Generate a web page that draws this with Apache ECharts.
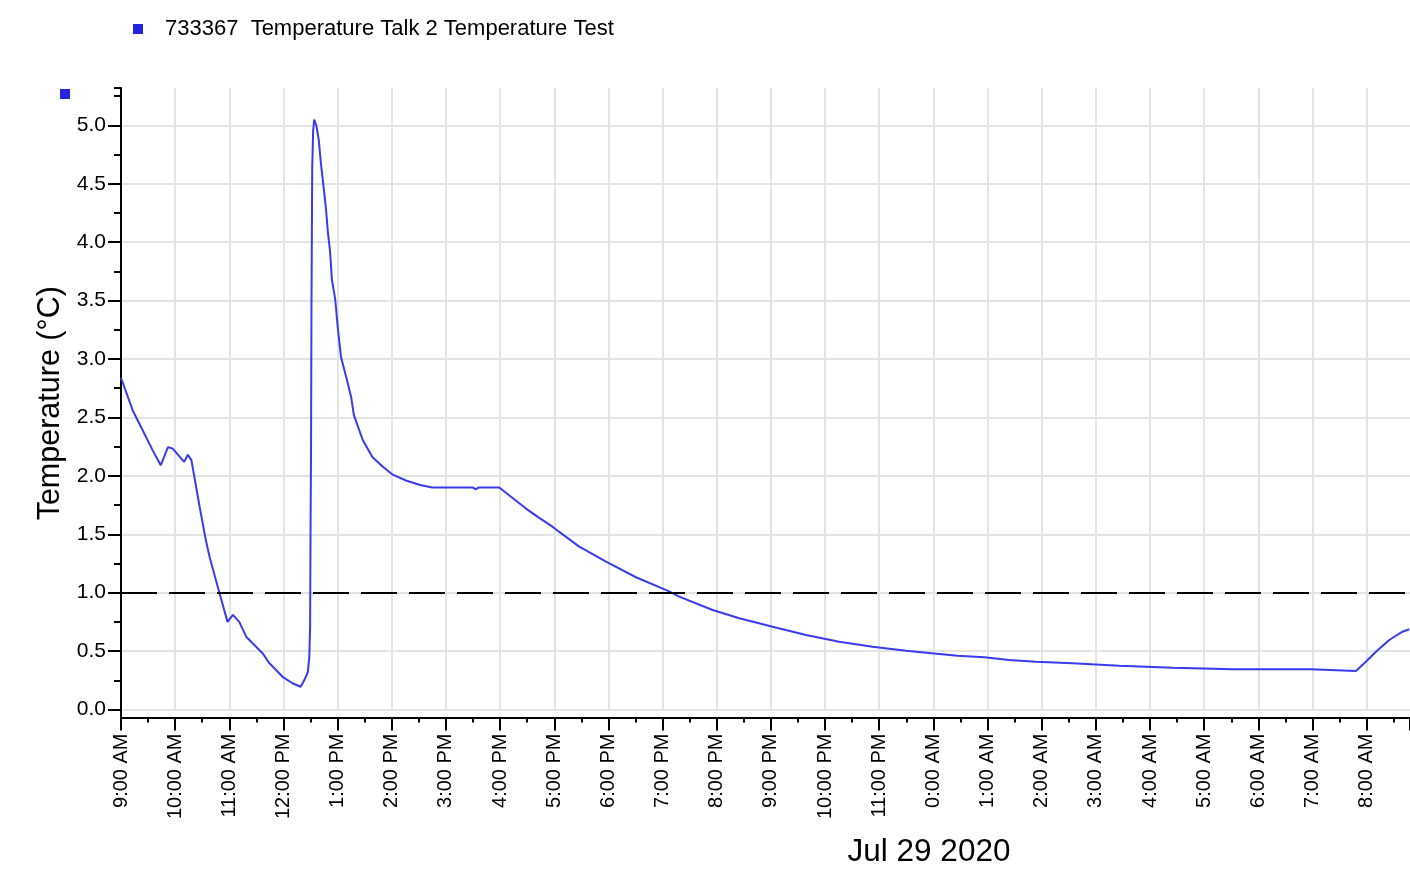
<!DOCTYPE html>
<html>
<head>
<meta charset="utf-8">
<script src="https://cdn.jsdelivr.net/npm/echarts@6/dist/echarts.min.js"></script>
<style>
  html, body { margin: 0; padding: 0; background: #ffffff; }
  #chart { width: 1410px; height: 870px; }
</style>
</head>
<body>
<div id="chart"></div>
<script>
// ---- data ----
const seriesName = '733367  Temperature Talk 2 Temperature Test';
const dateLabel = 'Jul 29 2020';
const yAxisTitle = 'Temperature (°C)';
const startTime = '2020-07-28 09:00:00';
const thresholdValue = 1.0;

const hourLabels = ['9:00 AM', '10:00 AM', '11:00 AM', '12:00 PM', '1:00 PM', '2:00 PM', '3:00 PM',
  '4:00 PM', '5:00 PM', '6:00 PM', '7:00 PM', '8:00 PM', '9:00 PM', '10:00 PM', '11:00 PM',
  '0:00 AM', '1:00 AM', '2:00 AM', '3:00 AM', '4:00 AM', '5:00 AM', '6:00 AM', '7:00 AM', '8:00 AM'];

const times = [
  '2020-07-28 09:00:00', '2020-07-28 09:13:00', '2020-07-28 09:24:00', '2020-07-28 09:35:00',
  '2020-07-28 09:44:00', '2020-07-28 09:52:00', '2020-07-28 09:57:00', '2020-07-28 10:10:00',
  '2020-07-28 10:14:00', '2020-07-28 10:18:00', '2020-07-28 10:27:00', '2020-07-28 10:34:00',
  '2020-07-28 10:38:00', '2020-07-28 10:49:00', '2020-07-28 10:58:00', '2020-07-28 11:04:00',
  '2020-07-28 11:11:00', '2020-07-28 11:19:00', '2020-07-28 11:37:00', '2020-07-28 11:44:00',
  '2020-07-28 11:59:00', '2020-07-28 12:10:00', '2020-07-28 12:19:00', '2020-07-28 12:23:00',
  '2020-07-28 12:27:00', '2020-07-28 12:28:36', '2020-07-28 12:29:30', '2020-07-28 12:30:00',
  '2020-07-28 12:30:30', '2020-07-28 12:31:00', '2020-07-28 12:31:50', '2020-07-28 12:32:50',
  '2020-07-28 12:34:00', '2020-07-28 12:36:20', '2020-07-28 12:39:00', '2020-07-28 12:41:40',
  '2020-07-28 12:44:20', '2020-07-28 12:47:10', '2020-07-28 12:49:00', '2020-07-28 12:51:30',
  '2020-07-28 12:53:40', '2020-07-28 12:57:20', '2020-07-28 13:00:00', '2020-07-28 13:03:40',
  '2020-07-28 13:09:20', '2020-07-28 13:14:50', '2020-07-28 13:18:00', '2020-07-28 13:27:40',
  '2020-07-28 13:38:40', '2020-07-28 13:49:50', '2020-07-28 14:01:00', '2020-07-28 14:15:40',
  '2020-07-28 14:32:20', '2020-07-28 14:45:00', '2020-07-28 15:30:00', '2020-07-28 15:33:00',
  '2020-07-28 15:36:00', '2020-07-28 15:59:00', '2020-07-28 16:13:50', '2020-07-28 16:28:40',
  '2020-07-28 16:43:20', '2020-07-28 16:58:00', '2020-07-28 17:05:30', '2020-07-28 17:27:40',
  '2020-07-28 17:57:20', '2020-07-28 18:30:30', '2020-07-28 19:05:30', '2020-07-28 19:18:30',
  '2020-07-28 19:55:25', '2020-07-28 20:25:00', '2020-07-28 21:01:50', '2020-07-28 21:38:50',
  '2020-07-28 22:15:40', '2020-07-28 22:52:40', '2020-07-28 23:29:40', '2020-07-29 00:06:30',
  '2020-07-29 00:26:50', '2020-07-29 00:56:25', '2020-07-29 01:24:00', '2020-07-29 01:53:40',
  '2020-07-29 02:34:10', '2020-07-29 03:25:55', '2020-07-29 04:24:55', '2020-07-29 05:31:25',
  '2020-07-29 06:58:20', '2020-07-29 06:58:40', '2020-07-29 07:48:05', '2020-07-29 07:57:20',
  '2020-07-29 08:10:20', '2020-07-29 08:25:00', '2020-07-29 08:39:40', '2020-07-29 08:47:10'
];

const temps = [
  2.84, 2.56, 2.39, 2.22,
  2.09, 2.245, 2.235, 2.12,
  2.18, 2.135, 1.74, 1.45,
  1.31, 1.00, 0.75, 0.81,
  0.75, 0.62, 0.48, 0.40,
  0.28, 0.225, 0.195, 0.25,
  0.32, 0.45, 0.71, 1.56,
  2.16, 3.43, 4.63, 4.95,
  5.05, 5.00, 4.88, 4.66,
  4.48, 4.28, 4.10, 3.93,
  3.68, 3.51, 3.28, 3.02,
  2.85, 2.68, 2.52, 2.31,
  2.16, 2.08, 2.01, 1.96,
  1.92, 1.90, 1.90, 1.885,
  1.90, 1.90, 1.81, 1.72,
  1.64, 1.565, 1.52, 1.394,
  1.265, 1.132, 1.017, 0.966,
  0.852, 0.781, 0.709, 0.638,
  0.580, 0.538, 0.503, 0.476,
  0.461, 0.447, 0.424, 0.409,
  0.395, 0.375, 0.358, 0.344,
  0.344, 0.330, 0.330, 0.396,
  0.495, 0.595, 0.666, 0.687
];

// ---- helpers ----
function parseUTC(s) {
  const m = s.match(/(\d+)-(\d+)-(\d+) (\d+):(\d+):(\d+)/);
  return Date.UTC(+m[1], +m[2] - 1, +m[3], +m[4], +m[5], +m[6]);
}
const t0 = parseUTC(startTime);
const seriesData = times.map((t, i) => [(parseUTC(t) - t0) / 60000, temps[i]]);

const fontFamily = "'Liberation Sans', Arial, sans-serif";
const lineBlue = '#3a3af0';
const markBlue = '#2424dc';

const chart = echarts.init(document.getElementById('chart'), null, { renderer: 'canvas' });
chart.setOption({
  animation: false,
  backgroundColor: '#ffffff',
  textStyle: { fontFamily: fontFamily },
  title: {
    text: dateLabel,
    left: 924,
    top: 831,
    textAlign: 'center',
    textStyle: { fontSize: 31.5, fontWeight: 'normal', color: '#000', fontFamily: fontFamily }
  },
  legend: {
    left: 128,
    top: 13,
    icon: 'rect',
    itemWidth: 10,
    itemHeight: 10,
    textStyle: { fontSize: 22, color: '#000', padding: [0, 0, 0, 17], fontFamily: fontFamily },
    data: [seriesName]
  },
  graphic: [{
    type: 'rect',
    left: 60,
    top: 89,
    shape: { width: 10, height: 10 },
    style: { fill: markBlue }
  }],
  grid: { left: 121, right: 0, top: 88, bottom: 160.5 },
  xAxis: {
    type: 'value',
    min: 0,
    max: 1428,
    interval: 60,
    offset: 8,
    axisLine: { show: true, onZero: false, lineStyle: { color: '#000', width: 2 } },
    axisTick: { show: true, length: 13, lineStyle: { color: '#000', width: 2 } },
    minorTick: { show: true, splitNumber: 2, length: 5, lineStyle: { color: '#000', width: 2 } },
    splitLine: { show: true, showMaxLine: false, lineStyle: { color: '#e4e4e4', width: 2 } },
    axisLabel: {
      rotate: 90,
      margin: 16,
      fontSize: 20,
      color: '#000',
      showMaxLabel: false,
      formatter: function (v) {
        if (v % 60 !== 0) return '';
        return hourLabels[v / 60] || '';
      }
    }
  },
  yAxis: [{
    type: 'value',
    min: 0,
    max: 5.32,
    interval: 0.5,
    name: yAxisTitle,
    nameLocation: 'middle',
    nameRotate: 90,
    nameGap: 50,
    nameTextStyle: { fontSize: 30.5, color: '#000', fontFamily: fontFamily, padding: [0, 9, 0, 0] },
    axisLine: { show: true, lineStyle: { color: '#000', width: 2 }, symbol: ['rect', 'none'], symbolSize: [2, 16] },
    axisTick: { show: true, length: 13, lineStyle: { color: '#000', width: 2 } },
    minorTick: { show: false },
    splitLine: { show: true, showMaxLine: false, lineStyle: { color: '#e4e4e4', width: 2 } },
    axisLabel: {
      margin: 15,
      fontSize: 21,
      color: '#000',
      showMaxLabel: false,
      formatter: function (v) { return (Math.abs(v * 2 - Math.round(v * 2)) < 1e-6) ? v.toFixed(1) : ''; }
    }
  }, {
    type: 'value',
    min: 0,
    max: 5.32,
    interval: 0.25,
    position: 'left',
    axisLine: { show: false },
    axisTick: { show: true, length: 7, lineStyle: { color: '#000', width: 2 } },
    splitLine: { show: false },
    axisLabel: { show: false }
  }],
  series: [{
    name: seriesName,
    type: 'line',
    xAxisIndex: 0,
    yAxisIndex: 0,
    data: seriesData,
    showSymbol: false,
    symbol: 'none',
    itemStyle: { color: markBlue },
    lineStyle: { color: lineBlue, width: 2 },
    markLine: {
      silent: true,
      symbol: ['none', 'none'],
      label: { show: false },
      lineStyle: { color: '#000', width: 2, type: [36, 12] },
      data: [{ yAxis: thresholdValue }]
    }
  }]
});
</script>
</body>
</html>
